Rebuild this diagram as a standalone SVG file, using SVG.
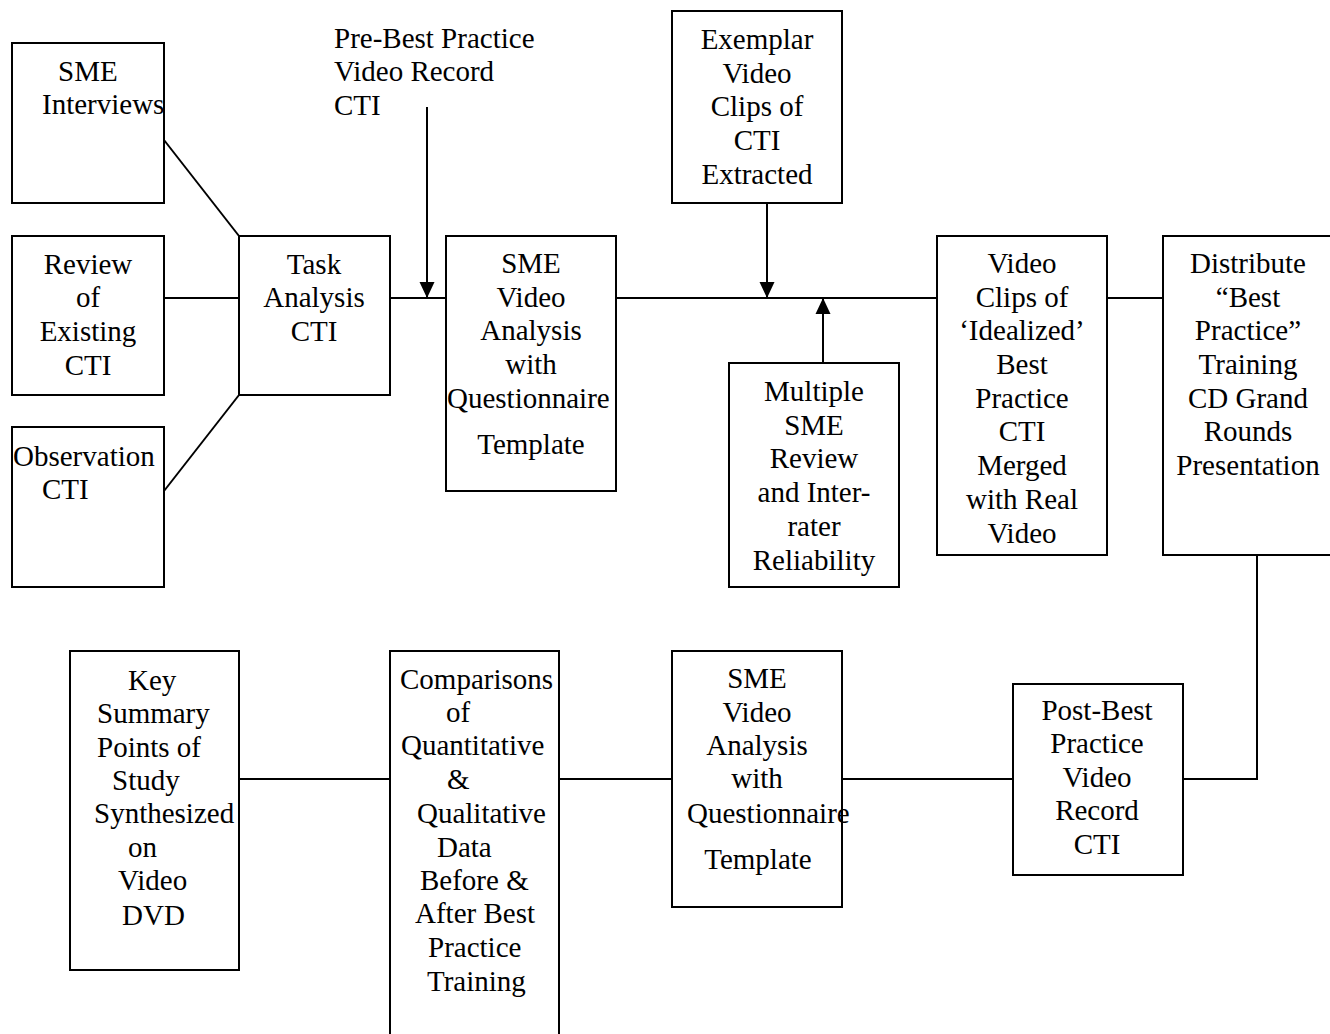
<svg xmlns="http://www.w3.org/2000/svg" width="1330" height="1034" viewBox="0 0 1330 1034">
<style>
  .box { fill: #ffffff; stroke: #000000; stroke-width: 2; }
  .conn { fill: none; stroke: #000000; stroke-width: 2; }
  text { font-family: "Liberation Serif", "Times New Roman", serif; font-size: 29px; fill: #000000; }
  .c { text-anchor: middle; }
</style>
<defs>
  <marker id="arrow" markerUnits="userSpaceOnUse" markerWidth="16" markerHeight="16" viewBox="0 0 16 16" refX="16" refY="8" orient="auto">
    <path d="M0,0.5 L16,8 L0,15.5 Z" fill="#000000"/>
  </marker>
</defs>
<rect x="0" y="0" width="1330" height="1034" fill="#ffffff"/>

<g id="connectors">
  <line class="conn" x1="164" y1="140" x2="239" y2="236"/>
  <line class="conn" x1="164" y1="298" x2="239" y2="298"/>
  <line class="conn" x1="164" y1="491" x2="239" y2="395"/>
  <line class="conn" x1="390" y1="298" x2="446" y2="298"/>
  <line class="conn" x1="427" y1="107" x2="427" y2="298" marker-end="url(#arrow)"/>
  <line class="conn" x1="616" y1="298" x2="937" y2="298"/>
  <line class="conn" x1="767" y1="203" x2="767" y2="298" marker-end="url(#arrow)"/>
  <line class="conn" x1="823" y1="363" x2="823" y2="298" marker-end="url(#arrow)"/>
  <line class="conn" x1="1107" y1="298" x2="1163" y2="298"/>
  <polyline class="conn" points="1257,555 1257,779 1183,779"/>
  <line class="conn" x1="842" y1="779" x2="1013" y2="779"/>
  <line class="conn" x1="559" y1="779" x2="672" y2="779"/>
  <line class="conn" x1="239" y1="779" x2="390" y2="779"/>
</g>

<g id="sme-interviews">
  <rect class="box" x="12" y="43" width="152" height="160"/>
  <text x="58" y="81">SME</text>
  <text x="42" y="114">Interviews</text>
</g>

<g id="review-existing">
  <rect class="box" x="12" y="236" width="152" height="159"/>
  <text class="c" x="88" y="274">Review</text>
  <text class="c" x="88" y="307">of</text>
  <text class="c" x="88" y="341">Existing</text>
  <text class="c" x="88" y="375">CTI</text>
</g>

<g id="observation">
  <rect class="box" x="12" y="427" width="152" height="160"/>
  <text x="13" y="466">Observation</text>
  <text x="42" y="499">CTI</text>
</g>

<g id="task-analysis">
  <rect class="box" x="239" y="236" width="151" height="159"/>
  <text class="c" x="314" y="274">Task</text>
  <text class="c" x="314" y="307">Analysis</text>
  <text class="c" x="314" y="341">CTI</text>
</g>

<g id="pre-best-label">
  <text x="334" y="48">Pre-Best Practice</text>
  <text x="334" y="81">Video Record</text>
  <text x="334" y="115">CTI</text>
</g>

<g id="sme-video-1">
  <rect class="box" x="446" y="236" width="170" height="255"/>
  <text class="c" x="531" y="273">SME</text>
  <text class="c" x="531" y="307">Video</text>
  <text class="c" x="531" y="340">Analysis</text>
  <text class="c" x="531" y="374">with</text>
  <text x="447" y="408">Questionnaire</text>
  <text class="c" x="531" y="454">Template</text>
</g>

<g id="exemplar">
  <rect class="box" x="672" y="11" width="170" height="192"/>
  <text class="c" x="757" y="49">Exemplar</text>
  <text class="c" x="757" y="83">Video</text>
  <text class="c" x="757" y="116">Clips of</text>
  <text class="c" x="757" y="150">CTI</text>
  <text class="c" x="757" y="184">Extracted</text>
</g>

<g id="multiple-sme">
  <rect class="box" x="729" y="363" width="170" height="224"/>
  <text class="c" x="814" y="401">Multiple</text>
  <text class="c" x="814" y="435">SME</text>
  <text class="c" x="814" y="468">Review</text>
  <text class="c" x="814" y="502">and Inter-</text>
  <text class="c" x="814" y="536">rater</text>
  <text class="c" x="814" y="570">Reliability</text>
</g>

<g id="video-clips">
  <rect class="box" x="937" y="236" width="170" height="319"/>
  <text class="c" x="1022" y="273">Video</text>
  <text class="c" x="1022" y="307">Clips of</text>
  <text class="c" x="1022" y="340">‘Idealized’</text>
  <text class="c" x="1022" y="374">Best</text>
  <text class="c" x="1022" y="408">Practice</text>
  <text class="c" x="1022" y="441">CTI</text>
  <text class="c" x="1022" y="475">Merged</text>
  <text class="c" x="1022" y="509">with Real</text>
  <text class="c" x="1022" y="543">Video</text>
</g>

<g id="distribute">
  <rect class="box" x="1163" y="236" width="180" height="319"/>
  <text class="c" x="1248" y="273">Distribute</text>
  <text class="c" x="1248" y="307">“Best</text>
  <text class="c" x="1248" y="340">Practice”</text>
  <text class="c" x="1248" y="374">Training</text>
  <text class="c" x="1248" y="408">CD Grand</text>
  <text class="c" x="1248" y="441">Rounds</text>
  <text class="c" x="1248" y="475">Presentation</text>
</g>

<g id="post-best">
  <rect class="box" x="1013" y="684" width="170" height="191"/>
  <text class="c" x="1097" y="720">Post-Best</text>
  <text class="c" x="1097" y="753">Practice</text>
  <text class="c" x="1097" y="787">Video</text>
  <text class="c" x="1097" y="820">Record</text>
  <text class="c" x="1097" y="854">CTI</text>
</g>

<g id="sme-video-2">
  <rect class="box" x="672" y="651" width="170" height="256"/>
  <text class="c" x="757" y="688">SME</text>
  <text class="c" x="757" y="722">Video</text>
  <text class="c" x="757" y="755">Analysis</text>
  <text class="c" x="757" y="788">with</text>
  <text x="687" y="823">Questionnaire</text>
  <text class="c" x="758" y="869">Template</text>
</g>

<g id="comparisons">
  <rect class="box" x="390" y="651" width="169" height="400"/>
  <text x="400" y="689">Comparisons</text>
  <text x="446" y="722">of</text>
  <text x="401" y="755">Quantitative</text>
  <text x="447" y="789">&amp;</text>
  <text x="417" y="823">Qualitative</text>
  <text x="437" y="857">Data</text>
  <text x="420" y="890">Before &amp;</text>
  <text x="415" y="923">After Best</text>
  <text x="428" y="957">Practice</text>
  <text x="427" y="991">Training</text>
</g>

<g id="key-summary">
  <rect class="box" x="70" y="651" width="169" height="319"/>
  <text x="128" y="690">Key</text>
  <text x="97" y="723">Summary</text>
  <text x="97" y="757">Points of</text>
  <text x="112" y="790">Study</text>
  <text x="94" y="823">Synthesized</text>
  <text x="128" y="857">on</text>
  <text x="118" y="890">Video</text>
  <text x="122" y="925">DVD</text>
</g>
</svg>
